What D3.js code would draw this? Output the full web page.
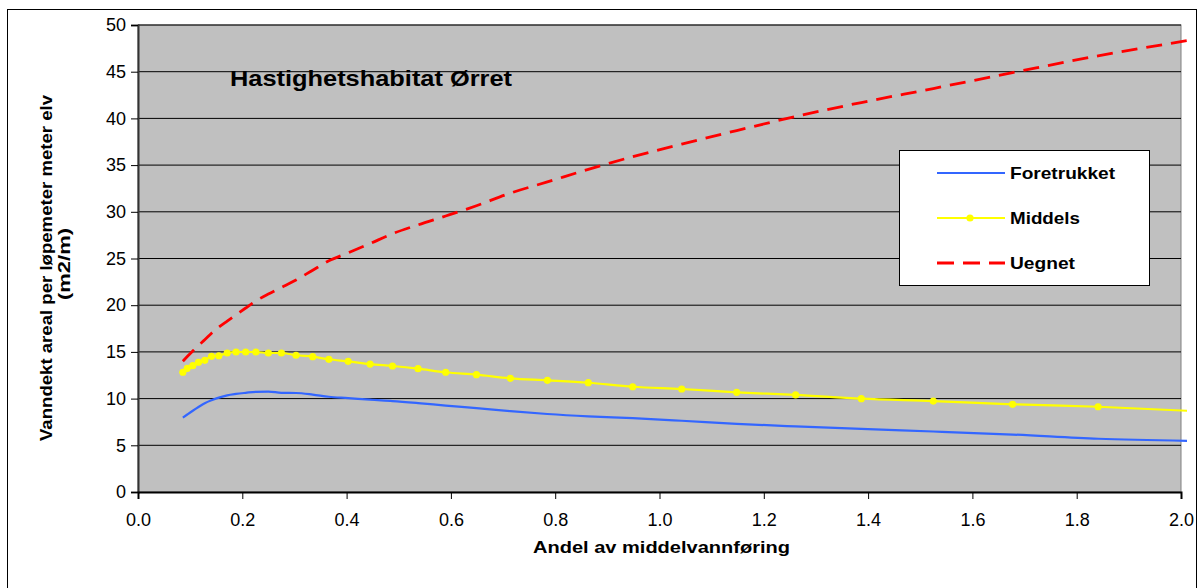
<!DOCTYPE html>
<html>
<head>
<meta charset="utf-8">
<script src="https://cdn.jsdelivr.net/npm/d3@7"></script>
<style>
  html, body { margin: 0; padding: 0; background: #fff; }
  svg { display: block; font-family: "Liberation Sans", Arial, sans-serif; }
</style>
</head>
<body>
<svg id="chart" width="1200" height="588"></svg>
<script>
// ---- Data ----
const flowShare = [0.086,0.0945,0.105,0.116,0.128,0.141,0.155,0.171,0.188,0.2065,0.226,0.25,0.275,0.303,0.335,0.366,0.403,0.445,0.488,0.537,0.59,0.649,0.714,0.785,0.8635,0.9486,1.0426,1.148,1.261,1.387,1.525,1.677,1.841,2.02];
const foretrukket = [7.97,8.3,8.7,9.1,9.5,9.82,10.1,10.35,10.5,10.62,10.73,10.75,10.62,10.6,10.43,10.2,10.06,9.88,9.74,9.52,9.25,8.97,8.65,8.35,8.1,7.9,7.63,7.3,7.02,6.75,6.48,6.15,5.7,5.47];
const middels = [12.82,13.24,13.52,13.89,14.10,14.53,14.59,14.88,14.99,14.99,14.99,14.88,14.88,14.64,14.49,14.21,13.99,13.70,13.49,13.20,12.82,12.56,12.17,11.96,11.70,11.27,11.03,10.67,10.39,9.99,9.74,9.39,9.13,8.68];
const uegnet = [14.0,14.5,15.1,15.7,16.3,17.0,17.65,18.3,18.97,19.7,20.45,21.2,21.9,22.7,23.75,24.75,25.6,26.6,27.65,28.6,29.55,30.65,32.0,33.2,34.55,35.9,37.25,38.7,40.2,41.7,43.2,44.9,46.7,48.4];
const xTicks = [0,0.2,0.4,0.6,0.8,1.0,1.2,1.4,1.6,1.8,2.0];
const yTicks = [0,5,10,15,20,25,30,35,40,45,50];
const seriesNames = ["Foretrukket","Middels","Uegnet"];
const titleText = "Hastighetshabitat Ørret";
const xTitle = "Andel av middelvannføring";
const yTitle1 = "Vanndekt areal per løpemeter meter elv";
const yTitle2 = "(m2/m)";

// ---- Layout ----
const svg = d3.select("#chart");
const L = 138, T = 25, R = 1181, B = 492;
const x = d3.scaleLinear().domain([0, 2]).range([L, R]);
const y = d3.scaleLinear().domain([0, 50]).range([B, T]);

// outer frame
svg.append("rect").attr("x", 7.5).attr("y", 9.5).attr("width", 1189).attr("height", 600)
  .attr("fill", "#fff").attr("stroke", "#000").attr("stroke-width", 1);

// plot area
svg.append("rect").attr("x", L).attr("y", T).attr("width", R - L).attr("height", B - T)
  .attr("fill", "#c0c0c0").attr("stroke", "#808080").attr("stroke-width", 1);

// gridlines
svg.append("g").selectAll("line").data(yTicks.filter(d => d > 0)).join("line")
  .attr("x1", L).attr("x2", R)
  .attr("y1", d => y(d)).attr("y2", d => y(d))
  .attr("stroke", "#000").attr("stroke-width", 1);

// axes
const yAxis = d3.axisLeft(y).tickValues(yTicks).tickSize(7).tickPadding(5).tickFormat(d3.format("d"));
const gy = svg.append("g").attr("transform", `translate(${L},0)`).call(yAxis);
gy.select(".domain").attr("stroke", "#333").attr("stroke-width", 2);
gy.selectAll(".tick line").attr("stroke", "#000");
gy.selectAll(".tick text").attr("font-size", 18).attr("fill", "#000")
  .attr("font-family", "'Liberation Sans', Arial, sans-serif");

const xAxis = d3.axisBottom(x).tickValues(xTicks).tickSize(7).tickPadding(14).tickFormat(d3.format(".1f"));
const gx = svg.append("g").attr("transform", `translate(0,${B})`).call(xAxis);
gx.select(".domain").attr("stroke", "#000").attr("stroke-width", 2);
gx.selectAll(".tick line").attr("stroke", "#000");
gx.selectAll(".tick text").attr("font-size", 18).attr("fill", "#000")
  .attr("font-family", "'Liberation Sans', Arial, sans-serif");

// clip
svg.append("clipPath").attr("id", "clip").append("rect")
  .attr("x", L).attr("y", T - 5).attr("width", R - L + 6).attr("height", B - T + 10);

const plot = svg.append("g").attr("clip-path", "url(#clip)");
const line = vals => d3.line().curve(d3.curveMonotoneX)
  .x((d, i) => x(flowShare[i])).y(d => y(d))(vals);

plot.append("path").attr("d", line(foretrukket)).attr("fill", "none")
  .attr("stroke", "#3366ff").attr("stroke-width", 2.2);
plot.append("path").attr("d", line(middels)).attr("fill", "none")
  .attr("stroke", "#ffff00").attr("stroke-width", 2.2);
plot.append("g").selectAll("circle").data(middels).join("circle")
  .attr("cx", (d, i) => x(flowShare[i])).attr("cy", d => y(d)).attr("r", 3.6)
  .attr("fill", "#ffff00");
plot.append("path").attr("d", line(uegnet)).attr("fill", "none")
  .attr("stroke", "#ff0000").attr("stroke-width", 2.8).attr("stroke-dasharray", "16,9");

// title
svg.append("text").attr("x", 230).attr("y", 86).attr("font-size", 22).attr("font-weight", "bold")
  .attr("textLength", 282).attr("lengthAdjust", "spacingAndGlyphs")
  .attr("fill", "#000").text(titleText);

// axis titles
svg.append("text").attr("x", 533).attr("y", 553)
  .attr("textLength", 257).attr("lengthAdjust", "spacingAndGlyphs")
  .attr("font-size", 17).attr("font-weight", "bold").attr("fill", "#000").text(xTitle);
svg.append("text").attr("transform", "translate(52,441) rotate(-90)")
  .attr("textLength", 346).attr("lengthAdjust", "spacingAndGlyphs")
  .attr("font-size", 17).attr("font-weight", "bold").attr("fill", "#000").text(yTitle1);
svg.append("text").attr("transform", "translate(70,300) rotate(-90)")
  .attr("textLength", 72).attr("lengthAdjust", "spacingAndGlyphs")
  .attr("font-size", 17).attr("font-weight", "bold").attr("fill", "#000").text(yTitle2);

// legend
const lg = svg.append("g");
lg.append("rect").attr("x", 899.5).attr("y", 150.5).attr("width", 250).attr("height", 135)
  .attr("fill", "#fff").attr("stroke", "#000").attr("stroke-width", 1);
const rowY = [173, 218, 263];
const textLens = [105, 70, 65];
const styles = [
  {c: "#3366ff", w: 2.2, dash: null, marker: false},
  {c: "#ffff00", w: 2.2, dash: null, marker: true},
  {c: "#ff0000", w: 2.8, dash: "17,9", marker: false}
];
seriesNames.forEach((n, i) => {
  const s = styles[i];
  const l = lg.append("line").attr("x1", 937).attr("x2", 1005).attr("y1", rowY[i]).attr("y2", rowY[i])
    .attr("stroke", s.c).attr("stroke-width", s.w);
  if (s.dash) l.attr("stroke-dasharray", s.dash);
  if (s.marker) lg.append("circle").attr("cx", 970).attr("cy", rowY[i]).attr("r", 3.6).attr("fill", s.c);
  lg.append("text").attr("x", 1010).attr("y", rowY[i] + 6).attr("font-size", 17)
    .attr("textLength", textLens[i]).attr("lengthAdjust", "spacingAndGlyphs")
    .attr("font-weight", "bold").attr("fill", "#000").text(n);
});
</script>
</body>
</html>
